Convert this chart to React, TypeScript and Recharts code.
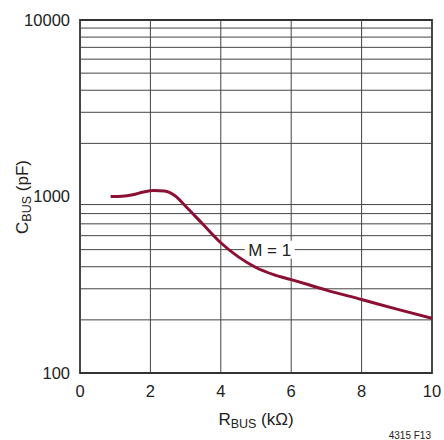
import React from 'react';
import {
  LineChart, Line, XAxis, YAxis, ReferenceLine, ReferenceArea, ReferenceDot, Label,
} from 'recharts';

// curve: R_BUS (kOhm) vs C_BUS (pF), M = 1
const R_BUS = [0.87, 1.2, 1.5, 1.8, 2.1, 2.4, 2.7, 3.0, 3.5, 4.0, 4.5, 5.0, 5.5, 6.0, 6.5, 7.0, 8.0, 9.0, 10.0];
const C_BUS = [1000, 1003, 1022, 1060, 1082, 1075, 1010, 881, 694, 547, 455, 396, 361, 338, 316, 295, 261, 230, 204];

const X_TICKS = [0, 2, 4, 6, 8, 10];
const Y_TICKS = [100, 1000, 10000];
const GRID_X = [2, 4, 6, 8];
const GRID_Y = [200, 300, 400, 500, 600, 700, 800, 900, 2000, 3000, 4000, 5000, 6000, 7000, 8000, 9000];

const CURVE_LABEL = 'M = 1';
const LABEL_AT = { r: 5.39, c: 500 };

const FONT = '"Liberation Sans", Arial, sans-serif';
const INK = '#222';
const GRID = '#444';
const CURVE = '#8c1033';

const data = R_BUS.map((r, i) => ({ r, c: C_BUS[i] }));

export default function App() {
  return (
    <div style={{ position: 'absolute', left: 0, top: 0, width: 444, height: 440, background: '#fff' }}>
      <LineChart width={444} height={440} data={data} margin={{ top: 20, right: 12, bottom: 0, left: 0 }}>
        <XAxis
          type="number"
          dataKey="r"
          domain={[0, 10]}
          ticks={X_TICKS}
          allowDataOverflow
          height={67}
          axisLine={false}
          tickLine={false}
          tickSize={0}
          tickMargin={12}
          tick={{ fontSize: 16.5, fill: INK, fontFamily: FONT }}
        >
          <Label
            content={() => (
              <g fontFamily={FONT} fill={INK}>
                <text x={256} y={425} textAnchor="middle" fontSize={17}>
                  R<tspan fontSize={12.5} dy={3}>BUS</tspan><tspan dy={-3}> (kΩ)</tspan>
                </text>
                <text x={431} y={439} textAnchor="end" fontSize={10}>4315 F13</text>
              </g>
            )}
          />
        </XAxis>
        <YAxis
          type="number"
          scale="log"
          domain={[100, 10000]}
          ticks={Y_TICKS}
          allowDataOverflow
          width={80}
          axisLine={false}
          tickLine={false}
          tickSize={0}
          tickMargin={10}
          tick={{ fontSize: 16.5, fill: INK, fontFamily: FONT }}
        >
          <Label
            content={() => (
              <text
                x={0}
                y={0}
                transform="translate(28 197) rotate(-90)"
                textAnchor="middle"
                fontSize={17}
                fontFamily={FONT}
                fill={INK}
              >
                C<tspan fontSize={12.5} dy={3}>BUS</tspan><tspan dy={-3}> (pF)</tspan>
              </text>
            )}
          />
        </YAxis>

        {GRID_Y.map((v) => (
          <ReferenceLine key={'gy' + v} y={v} stroke={GRID} strokeWidth={1} />
        ))}
        {GRID_X.map((v) => (
          <ReferenceLine key={'gx' + v} x={v} stroke={GRID} strokeWidth={1} />
        ))}
        <ReferenceArea x1={0} x2={10} y1={100} y2={10000} fill="none" fillOpacity={0} stroke="#333" strokeWidth={1.8} />

        <ReferenceDot
          x={LABEL_AT.r}
          y={LABEL_AT.c}
          shape={(p: any) => (
            <g>
              <rect x={p.cx - 25} y={p.cy - 9} width={50} height={18} fill="#fff" />
              <text x={p.cx} y={p.cy + 6} textAnchor="middle" fontSize={17} fontFamily={FONT} fill={INK}>
                {CURVE_LABEL}
              </text>
            </g>
          )}
        />

        <Line
          type="monotone"
          dataKey="c"
          stroke={CURVE}
          strokeWidth={3}
          dot={false}
          isAnimationActive={false}
        />
      </LineChart>
    </div>
  );
}
